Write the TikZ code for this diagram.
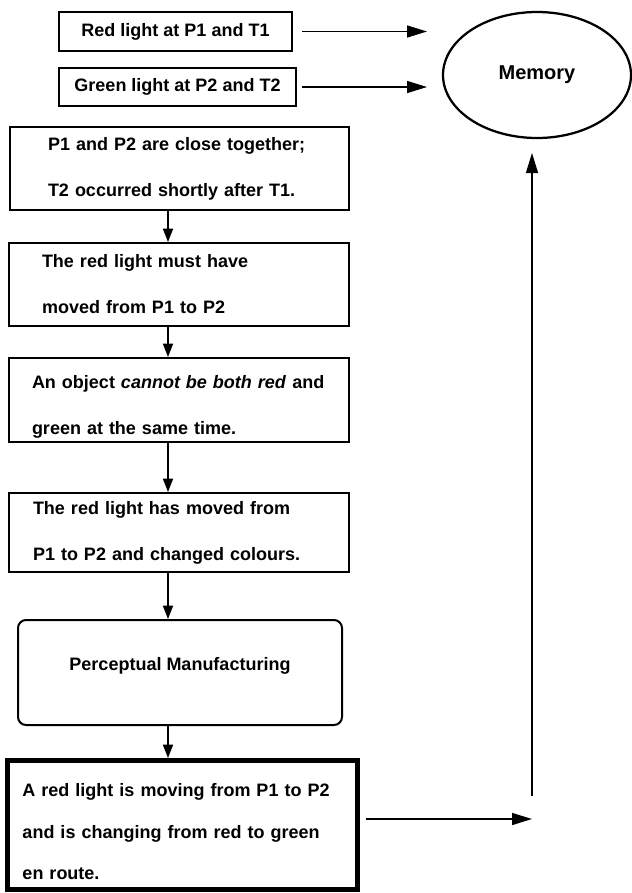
\documentclass[tikz,border=0pt]{standalone}
\usepackage{fontspec}
\setmainfont{Liberation Sans}
\usetikzlibrary{calc,arrows.meta,shapes.geometric}

\tikzset{
  cue/.style={draw, line width=1.5pt, rectangle, anchor=north west, inner sep=0pt,
    font=\bfseries\fontsize{13.5}{16}\selectfont},
  fact/.style={draw, line width=1.5pt, rectangle, anchor=north west, align=left,
    inner xsep=0pt, inner ysep=0pt, font=\bfseries\fontsize{13.5}{34.5}\selectfont},
  store/.style={draw, ellipse, line width=1.7pt, inner sep=0pt,
    font=\bfseries\fontsize{15}{18}\selectfont},
  flow/.style={line width=1.2pt, -{Triangle[length=10pt,width=7.5pt]}},
  recall/.style={line width=1.1pt, -{Triangle[length=15pt,width=9pt]}},
}

\begin{document}
\begin{tikzpicture}[x=0.75pt,y=-0.75pt]
	%%%%% frame, in pixels of the scan %%%%%
	\useasboundingbox (0,0) rectangle (632,893);
	\coordinate (spine) at (168,0);
	\coordinate (memin) at (427,0);
	\coordinate (back) at (532,819);
	\coordinate (rise) at (532,796);
	\coordinate (risetop) at (532,153);

	% the two sightings and memory
	\node[cue, minimum width=174.75pt, minimum height=29.25pt] (red) at (58,11) {Red light at P1 and T1};
	\node[cue, minimum width=177.75pt, minimum height=28.5pt] (green) at (58,67) {Green light at P2 and T2};
	\node[store, minimum width=141pt, minimum height=94.5pt] (memory) at (537,75) {Memory};

	\draw[recall] ($(red.east)+(9,0)$) -- (red.east -| memin);
	\draw[recall] ($(green.east)+(5,0)$) -- (green.east -| memin);

	% chain of inferences
	\node[fact, minimum width=254.25pt, minimum height=62.25pt, text width=197.25pt] (facts) at (9,126)
		{P1 and P2 are close together;\\T2 occurred shortly after T1.};
	\node[fact, minimum width=255pt, minimum height=62.25pt, text width=205.5pt] (must) at (8,242)
		{The red light must have\\moved from P1 to P2};
	\node[fact, minimum width=255pt, minimum height=63pt, text width=220.5pt] (cannot) at (8,357)
		{\rule{0pt}{20pt}An object \textit{cannot be both red} and\\green at the same time.};
	\node[fact, minimum width=255pt, minimum height=59.25pt, text width=219pt] (moved) at (8,492)
		{The red light has moved from\\P1 to P2 and changed colours.};
	\node[fact, rounded corners=6pt, minimum width=243pt, minimum height=78.75pt, text depth=13pt] (manuf) at (17,619)
		{Perceptual Manufacturing};
	\node[fact, line width=3.75pt, minimum width=262.5pt, minimum height=96.75pt, text width=240pt,
		font=\bfseries\fontsize{13.5}{31}\selectfont] (verdict) at (5,758)
		{\rule{0pt}{20pt}A red light is moving from P1 to P2\\and is changing from red to green\\en route.};

	\draw[flow] (facts.south -| spine) -- (must.north -| spine);
	\draw[flow] (must.south -| spine) -- (cannot.north -| spine);
	\draw[flow] (cannot.south -| spine) -- (moved.north -| spine);
	\draw[flow] (moved.south -| spine) -- (manuf.north -| spine);
	\draw[flow] (manuf.south -| spine) -- (verdict.north -| spine);

	% back to memory
	\draw[recall] ($(verdict.east |- back)+(6,0)$) -- (back);
	\draw[recall] (rise) -- (risetop);
\end{tikzpicture}
\end{document}
